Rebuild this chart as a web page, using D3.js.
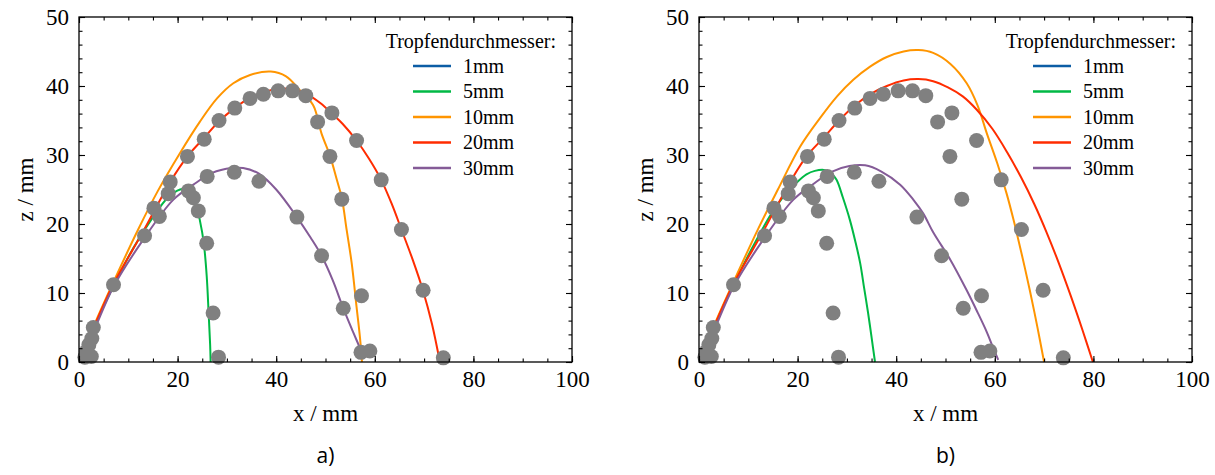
<!DOCTYPE html>
<html>
<head>
<meta charset="utf-8">
<script src="https://cdn.jsdelivr.net/npm/d3@7"></script>
<style>
  body { margin: 0; background: #fff; }
  text { font-family: "Liberation Serif", "DejaVu Serif", serif; fill: #000; }
</style>
</head>
<body>
<script>
// measured points (same in both panels), [x mm, z mm]
var messPunkte = [[1.2,0.7],[2.5,0.8],[1.5,1.5],[2.0,2.5],[2.6,3.4],[2.9,5.0],[7.0,11.2],[13.3,18.3],
  [15.2,22.3],[16.3,21.1],[18.1,24.4],[18.5,26.1],[22.0,29.8],[22.2,24.8],[23.2,23.8],[24.2,21.9],
  [25.4,32.3],[26.0,26.9],[25.9,17.2],[27.2,7.1],[28.3,0.7],[28.4,35.0],[31.6,36.8],[31.5,27.5],
  [34.7,38.2],[36.5,26.2],[37.4,38.8],[40.4,39.3],[43.3,39.3],[44.2,21.0],[46.0,38.6],[48.4,34.8],
  [49.2,15.4],[50.9,29.8],[51.3,36.1],[53.3,23.6],[53.6,7.8],[56.3,32.1],[57.3,9.6],[57.2,1.4],
  [59.0,1.6],[61.3,26.4],[65.4,19.2],[69.8,10.4],[73.9,0.6]];

var durchmesser = ["1mm","5mm","10mm","20mm","30mm"];
var farben = ["#0C5DA5","#00B945","#FF9500","#FF2C00","#845B97"];

// panel a) simulated trajectories
var a_1mm = []; // not visible in the picture
var a_5mm = [[1,1.5],[3,5],[7,11],[11,16.5],[15,21],[18,23.8],[20.5,25],[22,25],[23.5,23.5],[24.5,20.6],
  [25.3,17.3],[25.9,12.5],[26.3,7],[26.6,2.5],[26.7,0]];
var a_10mm = [[1,1.5],[3,5.2],[7,11.6],[12,19.2],[16,24.8],[20.5,30.3],[24.5,34.8],[28,38.2],[31.3,40.4],
  [34.7,41.6],[38.9,42.1],[42,41.4],[44.8,39.4],[47.5,37.2],[49.2,33.1],[50.9,29.9],[52.3,26.4],
  [53.3,23.8],[54.3,19.1],[55.3,14.4],[56.3,8.0],[57.0,3.5],[57.4,0]];
var a_20mm = [[1,1.5],[3,5],[7,11.3],[13,18.9],[18.5,26.1],[22,29.8],[25.4,32.5],[28.4,34.9],[31.6,36.8],
  [34.7,38.3],[37.5,39.1],[40.5,39.6],[43.3,39.5],[46,38.9],[49,37.5],[51.3,36],[53.5,34.5],[56.3,32.1],
  [58.8,29.5],[61.3,26.4],[63.5,22.8],[65.4,19.2],[67.7,14.8],[69.8,10.3],[71.6,5.5],[73.2,0]];
var a_30mm = [[0.9,1.3],[3,4.5],[7,10.9],[13,17.7],[19.1,23.5],[23.2,25.7],[27,27.4],[31,28.1],[33.3,28.1],
  [36.5,27.3],[40,25],[44.2,21],[47,18],[49.2,15.4],[51.5,11.8],[53.6,7.8],[55.5,4.5],[57,2],[57.8,0.5]];

// panel b)
var b_1mm = [];
var b_5mm = [[1,1.5],[3,5],[7,11.2],[11,16.8],[14.7,21.5],[17.5,24.3],[19.8,26],[21.8,27.2],[23.5,27.7],
  [25.6,27.8],[27,27.2],[27.9,26.4],[29.2,23.8],[30.6,20.6],[31.7,17.5],[32.7,14.3],[33.5,10.7],
  [34.3,7.1],[35.0,3.6],[35.7,0]];
var b_10mm = [[1,1.5],[3,5.2],[7,11.6],[12,19.3],[16,25],[20.5,31.2],[24.5,35.3],[28,38.5],[31.3,40.9],
  [34.7,42.8],[38.1,44.2],[41.5,45],[44.5,45.2],[47.5,44.8],[51,43.2],[54.3,40.4],[56.5,37.2],[58.4,33.1],
  [60.5,28.8],[62.4,24.4],[63.8,20.6],[65.5,15.5],[67.1,10.4],[68.6,5.2],[70.0,0]];
var b_20mm = [[1,1.5],[3,5],[7,11.3],[13,18.9],[18.5,26.1],[21.8,29.8],[25.4,32.6],[28.4,35],[31.3,37],
  [34.7,38.8],[38.1,40],[41.5,40.8],[44.5,41],[47.5,40.7],[50.5,39.8],[53.5,38.5],[56.3,36.6],[59.5,33.8],
  [62.5,30.4],[65.3,26.8],[68,22.9],[70.5,18.8],[73,14.3],[75.5,9.4],[77.8,4.6],[79.9,0]];
var b_30mm = [[0.9,1.3],[3,4.5],[7,10.9],[13,17.7],[19.1,23.5],[23.2,25.8],[27,27.6],[30.5,28.4],[33.7,28.5],
  [37,27.6],[40.8,25.7],[43.5,23.5],[45.5,21.5],[47.5,18.8],[51,14.8],[54.3,10.4],[56.5,7.2],[58.4,4.3],
  [59.7,2],[60.7,0.3]];

var xTicks = [0,20,40,60,80,100];
var zTicks = [0,10,20,30,40,50];

var svg = d3.select("body").append("svg")
    .attr("width",1215)
    .attr("height",475);

var drawPanel = function(left,kurven,label)
{
  var w = 493, top = 17, h = 345;
  var x = d3.scaleLinear().domain([0,100]).range([left,left+w]);
  var y = d3.scaleLinear().domain([0,50]).range([top+h,top]);
  var g = svg.append("g");

  var line = d3.line()
      .x(function(d){ return x(d[0]); })
      .y(function(d){ return y(d[1]); })
      .curve(d3.curveCatmullRom.alpha(0.5));

  // curves
  kurven.forEach(function(k,i){
    if (k.length==0) return;
    g.append("path")
      .attr("d",line(k))
      .attr("fill","none")
      .attr("stroke",farben[i])
      .attr("stroke-width",2);
  });

  // measured points on top
  g.append("g").selectAll("circle")
    .data(messPunkte)
    .enter()
    .append("circle")
    .attr("cx",function(d){ return x(d[0]); })
    .attr("cy",function(d){ return y(d[1]); })
    .attr("r",7.5)
    .attr("fill","#808080");

  // major + minor ticks, inward on every side
  var minorX = d3.range(0,101,5), minorZ = d3.range(0,51,2);
  var axes = [
    [d3.axisBottom(x).tickValues(xTicks).tickSize(-6).tickPadding(9), "translate(0,"+(top+h)+")"],
    [d3.axisBottom(x).tickValues(minorX).tickSize(-3.5).tickFormat(""), "translate(0,"+(top+h)+")"],
    [d3.axisTop(x).tickValues(xTicks).tickSize(-6).tickFormat(""), "translate(0,"+top+")"],
    [d3.axisTop(x).tickValues(minorX).tickSize(-3.5).tickFormat(""), "translate(0,"+top+")"],
    [d3.axisLeft(y).tickValues(zTicks).tickSize(-6).tickPadding(10), "translate("+left+",0)"],
    [d3.axisLeft(y).tickValues(minorZ).tickSize(-3.5).tickFormat(""), "translate("+left+",0)"],
    [d3.axisRight(y).tickValues(zTicks).tickSize(-6).tickFormat(""), "translate("+(left+w)+",0)"],
    [d3.axisRight(y).tickValues(minorZ).tickSize(-3.5).tickFormat(""), "translate("+(left+w)+",0)"]
  ];
  axes.forEach(function(a){
    var ag = g.append("g").attr("transform",a[1]).call(a[0]);
    ag.attr("font-family",null).attr("font-size",null);
    ag.select(".domain").remove();
    ag.selectAll("line").attr("stroke","#000").attr("stroke-width",1.1);
    ag.selectAll("text")
      .style("font-size","23px")
      .attr("fill","#000");
  });

  g.append("rect")
    .attr("x",left).attr("y",top)
    .attr("width",w).attr("height",h)
    .attr("fill","none")
    .attr("stroke","#000")
    .attr("stroke-width",1.3);

  // axis titles
  g.append("text")
    .attr("x",left+w/2).attr("y",421)
    .attr("text-anchor","middle")
    .style("font-size","23px")
    .text("x / mm");
  g.append("text")
    .attr("transform","translate("+(left-46)+","+(top+h/2)+") rotate(-90)")
    .attr("text-anchor","middle")
    .style("font-size","23px")
    .text("z / mm");

  // legend
  g.append("text")
    .attr("x",left+477).attr("y",48)
    .attr("text-anchor","end")
    .style("font-size","20px")
    .text("Tropfendurchmesser:");
  durchmesser.forEach(function(d,i){
    var ly = 66 + i*25.5;
    g.append("line")
      .attr("x1",left+334).attr("x2",left+372)
      .attr("y1",ly).attr("y2",ly)
      .attr("stroke",farben[i])
      .attr("stroke-width",2.5);
    g.append("text")
      .attr("x",left+384).attr("y",ly+6.5)
      .style("font-size","20px")
      .text(d);
  });

  // caption
  g.append("text")
    .attr("x",left+w/2).attr("y",463)
    .attr("text-anchor","middle")
    .style("font-family","'Open Sans', sans-serif")
    .style("font-size","21px")
    .text(label);
}

drawPanel(79,[a_1mm,a_5mm,a_10mm,a_20mm,a_30mm],"a)");
drawPanel(699,[b_1mm,b_5mm,b_10mm,b_20mm,b_30mm],"b)");
</script>
</body>
</html>
